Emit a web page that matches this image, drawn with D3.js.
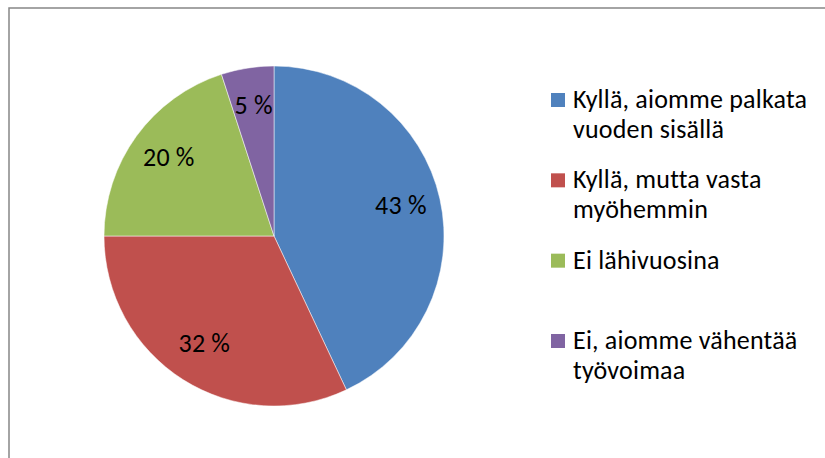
<!DOCTYPE html>
<html>
<head>
  <script src="https://d3js.org/d3.v7.min.js"></script>
  <style>
    body { margin: 0; background: #fff; }
    text { font-family: Carlito, Calibri, "Liberation Sans", sans-serif; font-size: 26px; fill: #000; letter-spacing: 0.2px; }
  </style>
</head>
<body>
  <svg width="825" height="458"></svg>
  <script>
    // vastaukset (%)
    var categories = ["Kyllä, aiomme palkata\nvuoden sisällä", "Kyllä, mutta vasta\nmyöhemmin", "Ei lähivuosina", "Ei, aiomme vähentää\ntyövoimaa"];
    var values = [43, 32, 20, 5];
    var labels = ["43 %", "32 %", "20 %", "5 %"];
    var colors = ["#4F81BD", "#C0504D", "#9BBB59", "#8064A2"];

    var svg = d3.select("svg");

    // chart area frame (runs off the right and bottom edge)
    svg.append("rect")
      .attr("x", 9).attr("y", 8)
      .attr("width", 900).attr("height", 600)
      .attr("fill", "none")
      .attr("stroke", "#878787")
      .attr("stroke-width", 1.5);

    var cx = 274, cy = 236, radius = 170;

    var data = values.map(function(v, i) {
      return { name: categories[i], value: v, label: labels[i], color: colors[i] };
    });

    var pie = d3.pie().sort(null).value(function(d) { return d.value; });
    var arc = d3.arc().innerRadius(0).outerRadius(radius);
    var labelArc = d3.arc().innerRadius(130).outerRadius(130);

    var g = svg.append("g").attr("transform", "translate(" + cx + "," + cy + ")");

    var slices = g.selectAll(".slice")
      .data(pie(data))
      .enter().append("g")
      .attr("class", "slice");

    slices.append("path")
      .attr("d", arc)
      .attr("fill", function(d) { return d.data.color; })
      .attr("stroke", "#fff")
      .attr("stroke-width", 0.5);

    slices.append("text")
      .attr("transform", function(d) { return "translate(" + labelArc.centroid(d) + ")"; })
      .attr("text-anchor", "middle")
      .attr("dy", "0.25em")
      .text(function(d) { return d.data.label; });

    // legend
    var ly = d3.scalePoint().domain(categories).range([93, 334]);
    var legend = svg.selectAll(".legend")
      .data(data)
      .enter().append("g")
      .attr("class", "legend")
      .attr("transform", function(d) { return "translate(551," + ly(d.name) + ")"; });

    legend.append("rect")
      .attr("width", 14).attr("height", 14)
      .attr("fill", function(d) { return d.color; });

    legend.append("text")
      .attr("x", 22)
      .attr("y", 15)
      .selectAll("tspan")
      .data(function(d) { return d.name.split("\n"); })
      .enter().append("tspan")
      .attr("x", 22)
      .attr("dy", function(d, i) { return i ? 30 : 0; })
      .text(function(d) { return d; });
  </script>
</body>
</html>
